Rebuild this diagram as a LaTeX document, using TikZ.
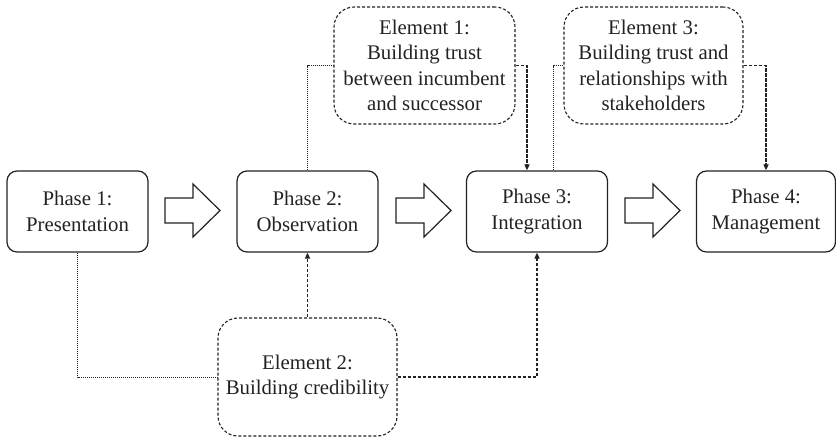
\documentclass[tikz,border=0pt]{standalone}
\usepackage{fontspec}
\setmainfont{Liberation Serif}
\usetikzlibrary{arrows.meta}
\definecolor{ink}{HTML}{222222}
\begin{document}
\begin{tikzpicture}[x=1pt,y=-1pt,
  phasebox/.style={draw=ink, line width=1.2pt, rounded corners=10pt, minimum width=141pt, minimum height=81pt, inner sep=0pt, align=center, text=ink, font=\fontsize{20.8}{25.5}\selectfont},
  elembox/.style={draw=ink, line width=1.1pt, dash pattern=on 3pt off 2pt, rounded corners=20pt, minimum width=180pt, minimum height=117pt, inner sep=0pt, align=center, text=ink, font=\fontsize{20.8}{25.5}\selectfont},
  dotlink/.style={draw=ink, line width=0.9pt, dash pattern=on 1pt off 1pt},
  dashlink/.style={draw=ink, line width=1.6pt, dash pattern=on 3.5pt off 1.5pt, -{Triangle[length=6pt,width=5pt]}},
  blockarrow/.style={draw=ink, line width=1.2pt, fill=white}
]
\useasboundingbox (0,0) rectangle (836,437);
% phases
\node[phasebox] (p1) at (77.5,211.5) {Phase 1:\\Presentation};
\node[phasebox] (p2) at (307.5,211.5) {Phase 2:\\Observation};
\node[phasebox] (p3) at (537,211.5) {Phase 3:\\Integration};
\node[phasebox, minimum width=139pt] (p4) at (766,211.5) {Phase 4:\\Management};
% elements
\node[elembox, minimum width=181pt] (e1) at (424.5,65.5) {Element 1:\\Building trust\\between incumbent\\and successor};
\node[elembox, minimum width=179pt] (e3) at (653.5,65.5) {Element 3:\\Building trust and\\relationships with\\stakeholders};
\node[elembox, minimum width=179pt, minimum height=118pt] (e2) at (307.5,377) {Element 2:\\Building credibility};
% block arrows
\foreach \xa in {165,396,625}{
  \draw[blockarrow] (\xa,198) -- (\xa+28,198) -- (\xa+28,184) -- (\xa+55,210.5) -- (\xa+28,237) -- (\xa+28,223) -- (\xa,223) -- cycle;
}
% connectors
\draw[dotlink] (p2.north) |- (e1.west);
\coordinate (p3in) at ([xshift=-10pt]p3.north);
\draw[dashlink] (e1.east) -| (p3in);
\coordinate (p3dot) at ([xshift=16pt]p3.north);
\draw[dotlink] (e3.west) -| (p3dot);
\draw[dashlink] (e3.east) -| (p4.north);
\draw[dotlink] (p1.south) |- (e2.west);
\draw[dashlink] (e2.north) -- (p2.south);
\draw[dashlink] (e2.east) -| (p3.south);
\end{tikzpicture}
\end{document}
